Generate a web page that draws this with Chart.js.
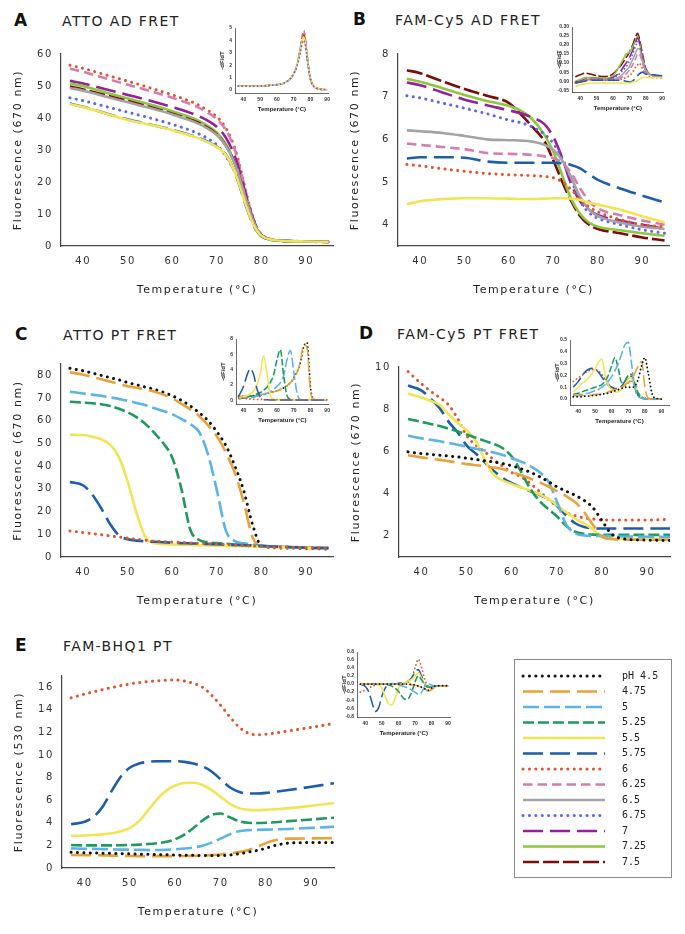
<!DOCTYPE html>
<html>
<head>
<meta charset="utf-8">
<script src="https://cdn.jsdelivr.net/npm/chart.js@4.4.1/dist/chart.umd.min.js"></script>
<style>
  body { margin: 0; background: #fff; width: 685px; height: 934px; position: relative; overflow: hidden; font-family: "DejaVu Sans", Verdana, sans-serif; }
  canvas { position: absolute; }
  .let { position: absolute; font-weight: bold; font-size: 17px; line-height: 17px; color: #111; }
  .ttl { position: absolute; font-size: 14px; line-height: 14px; letter-spacing: 1.4px; color: #222; white-space: nowrap; }
  #legendBox { position: absolute; left: 514px; top: 659px; width: 158px; height: 219px; box-sizing: border-box; border: 1px solid #8a8a8a; }
</style>
</head>
<body>
<div class="let" style="left:14px;top:12px">A</div>
<div class="ttl" style="left:62px;top:14px">ATTO AD FRET</div>
<div class="let" style="left:353px;top:11px">B</div>
<div class="ttl" style="left:395px;top:13px">FAM-Cy5 AD FRET</div>
<div class="let" style="left:15px;top:326px">C</div>
<div class="ttl" style="left:63px;top:328px">ATTO PT FRET</div>
<div class="let" style="left:359px;top:325px">D</div>
<div class="ttl" style="left:397px;top:327px">FAM-Cy5 PT FRET</div>
<div class="let" style="left:15px;top:637px">E</div>
<div class="ttl" style="left:63px;top:639px">FAM-BHQ1 PT</div>
<div id="legendBox"></div>

<canvas id="cA"></canvas><canvas id="cB"></canvas><canvas id="cC"></canvas>
<canvas id="cD"></canvas><canvas id="cE"></canvas>
<canvas id="iA"></canvas><canvas id="iB"></canvas><canvas id="iC"></canvas>
<canvas id="iD"></canvas><canvas id="iE"></canvas>
<canvas id="legend"></canvas>

<script>
// ---- labels / ticks ----
const phLabels = ['pH 4.5', '4.75', '5', '5.25', '5.5', '5.75', '6', '6.25', '6.5', '6.75', '7', '7.25', '7.5'];
const tempTicks = [40, 50, 60, 70, 80, 90];
const yTicksA = [0, 10, 20, 30, 40, 50, 60];
const yTicksB = [4, 5, 6, 7, 8];
const yTicksC = [0, 10, 20, 30, 40, 50, 60, 70, 80];
const yTicksD = [2, 4, 6, 8, 10];
const yTicksE = [0, 2, 4, 6, 8, 10, 12, 14, 16];
const iTicksA = [0, 1, 2, 3, 4, 5];
const iTicksB = [-0.05, 0, 0.05, 0.10, 0.15, 0.20, 0.25, 0.30];
const iTicksC = [0, 2, 4, 6, 8];
const iTicksD = [0, 0.1, 0.2, 0.3, 0.4, 0.5];
const iTicksE = [-0.8, -0.6, -0.4, -0.2, 0, 0.2, 0.4, 0.6, 0.8];

// ---- A: ATTO AD FRET ----
const tempA = [37, 40, 45, 50, 55, 60, 65, 68, 70, 72, 74, 75, 76, 77, 78, 79, 80, 82, 85, 90, 95];
const a55  = [44.4, 43.4, 41.4, 39.4, 37.9, 36.2, 34.1, 32.4, 30.9, 28.4, 23.0, 19.2, 14.8, 10.7, 7.2, 4.7, 3.1, 2.0, 1.6, 1.4, 1.3];
const a575 = [44.5, 43.5, 41.5, 39.5, 38.0, 36.3, 34.2, 32.5, 31.0, 28.5, 23.0, 19.0, 14.5, 10.5, 7.0, 4.5, 3.0, 2.0, 1.6, 1.4, 1.3];
const a6   = [56.5, 55.5, 53.5, 51.5, 49.4, 47.2, 44.6, 42.3, 40.3, 36.8, 30.5, 25.5, 19.8, 14.0, 9.2, 5.6, 3.5, 2.1, 1.6, 1.4, 1.3];
const a625 = [55.4, 54.4, 52.4, 50.4, 48.4, 46.3, 43.8, 41.6, 39.6, 36.2, 30.0, 25.0, 19.5, 13.8, 9.0, 5.5, 3.4, 2.1, 1.6, 1.4, 1.3];
const a65  = [49.4, 48.5, 46.7, 44.9, 43.1, 41.1, 38.7, 36.6, 34.6, 31.2, 25.6, 21.5, 16.8, 12.2, 8.2, 5.1, 3.3, 2.0, 1.6, 1.4, 1.3];
const a675 = [46.3, 45.4, 43.6, 41.8, 40.0, 38.0, 35.6, 33.5, 31.5, 28.0, 23.0, 19.2, 15.0, 10.9, 7.4, 4.8, 3.1, 2.0, 1.6, 1.4, 1.3];
const a7   = [51.6, 50.8, 49.0, 47.2, 45.4, 43.4, 41.1, 39.1, 37.2, 33.8, 28.0, 23.6, 18.5, 13.3, 8.8, 5.4, 3.4, 2.1, 1.6, 1.4, 1.3];
const a725 = [50.8, 49.9, 48.0, 46.1, 44.2, 42.1, 39.7, 37.5, 35.4, 31.8, 26.0, 21.8, 17.0, 12.3, 8.2, 5.1, 3.3, 2.0, 1.6, 1.4, 1.3];
const a75  = [49.8, 48.9, 47.1, 45.3, 43.4, 41.3, 39.0, 36.9, 34.8, 31.3, 25.8, 21.7, 17.0, 12.3, 8.2, 5.1, 3.3, 2.0, 1.6, 1.4, 1.3];

const tempAi = [37, 40, 45, 50, 55, 60, 65, 68, 70, 72, 74, 75, 76, 77, 78, 80, 82, 85, 88, 90];
const ai55  = [0.3, 0.3, 0.3, 0.32, 0.36, 0.42, 0.6, 0.9, 1.3, 2.0, 3.2, 3.9, 4.3, 3.8, 2.7, 0.9, 0.3, 0.08, 0.03, 0.02];
const ai675 = [0.3, 0.3, 0.3, 0.32, 0.36, 0.42, 0.6, 0.9, 1.3, 1.9, 3.0, 3.7, 4.0, 3.6, 2.6, 0.9, 0.3, 0.08, 0.03, 0.02];
const ai75  = [0.3, 0.3, 0.3, 0.32, 0.36, 0.42, 0.6, 0.9, 1.3, 2.0, 3.3, 4.1, 4.5, 3.9, 2.7, 0.9, 0.3, 0.08, 0.03, 0.02];
const ai6   = [0.3, 0.3, 0.3, 0.32, 0.36, 0.42, 0.6, 0.9, 1.3, 2.0, 3.3, 4.2, 4.6, 4.0, 2.8, 0.9, 0.3, 0.08, 0.03, 0.02];
const ai625 = [0.3, 0.3, 0.3, 0.32, 0.36, 0.42, 0.6, 0.9, 1.3, 2.0, 3.4, 4.3, 4.8, 4.2, 2.9, 0.9, 0.3, 0.08, 0.03, 0.02];

// ---- B: FAM-Cy5 AD FRET ----
const tempB = [37, 40, 45, 50, 55, 60, 63, 65, 68, 70, 72, 74, 76, 78, 80, 85, 90, 95];
const b55  = [4.48, 4.55, 4.6, 4.62, 4.62, 4.61, 4.6, 4.6, 4.61, 4.62, 4.62, 4.61, 4.58, 4.52, 4.47, 4.35, 4.2, 4.05];
const b575 = [5.55, 5.58, 5.58, 5.57, 5.48, 5.45, 5.45, 5.45, 5.45, 5.45, 5.44, 5.4, 5.32, 5.18, 5.05, 4.85, 4.68, 4.52];
const b6   = [5.41, 5.38, 5.31, 5.25, 5.2, 5.17, 5.16, 5.15, 5.13, 5.1, 5.0, 4.82, 4.6, 4.42, 4.3, 4.12, 4.0, 3.95];
const b625 = [5.9, 5.87, 5.82, 5.77, 5.68, 5.66, 5.65, 5.64, 5.6, 5.56, 5.45, 5.2, 4.85, 4.55, 4.38, 4.22, 4.1, 4.0];
const b65  = [6.21, 6.19, 6.15, 6.08, 6.0, 5.98, 5.97, 5.95, 5.87, 5.75, 5.5, 5.1, 4.65, 4.35, 4.2, 4.05, 3.95, 3.9];
const b675 = [7.02, 6.97, 6.85, 6.73, 6.6, 6.45, 6.38, 6.3, 6.12, 5.9, 5.55, 5.05, 4.55, 4.28, 4.15, 4.0, 3.88, 3.8];
const b7   = [7.33, 7.27, 7.1, 6.93, 6.8, 6.68, 6.6, 6.52, 6.35, 6.05, 5.55, 4.95, 4.55, 4.35, 4.22, 4.1, 4.0, 3.9];
const b725 = [7.42, 7.35, 7.2, 7.04, 6.9, 6.78, 6.65, 6.5, 6.1, 5.7, 5.15, 4.6, 4.25, 4.05, 3.95, 3.87, 3.8, 3.74];
const b75  = [7.62, 7.55, 7.36, 7.18, 7.02, 6.85, 6.55, 6.32, 5.95, 5.5, 5.0, 4.55, 4.2, 4.0, 3.9, 3.8, 3.7, 3.63];

const tempBi = [37, 40, 43, 46, 50, 55, 60, 65, 68, 70, 72, 74, 75, 76, 78, 80, 85, 90];
const bi55  = [-0.03, -0.02, -0.015, -0.01, -0.01, -0.01, -0.01, -0.01, -0.01, -0.01, -0.005, 0.0, 0.005, 0.01, 0.02, 0.02, 0.02, 0.02];
const bi575 = [-0.01, -0.005, 0.0, 0.005, 0.005, 0.005, 0.005, 0.005, 0.0, -0.005, 0.0, 0.02, 0.03, 0.04, 0.05, 0.04, 0.035, 0.03];
const bi6   = [-0.005, 0.0, 0.005, 0.008, 0.008, 0.005, 0.005, 0.01, 0.02, 0.03, 0.05, 0.08, 0.09, 0.1, 0.07, 0.04, 0.02, 0.02];
const bi625 = [-0.01, -0.005, 0.005, 0.01, 0.01, 0.005, 0.005, 0.02, 0.04, 0.06, 0.09, 0.13, 0.15, 0.15, 0.1, 0.05, 0.03, 0.02];
const bi65  = [-0.01, -0.005, 0.005, 0.01, 0.01, 0.008, 0.01, 0.03, 0.06, 0.08, 0.12, 0.16, 0.18, 0.18, 0.11, 0.06, 0.03, 0.02];
const bi675 = [-0.01, 0.0, 0.01, 0.012, 0.012, 0.01, 0.015, 0.05, 0.08, 0.11, 0.15, 0.2, 0.22, 0.21, 0.12, 0.06, 0.03, 0.02];
const bi7   = [-0.005, 0.0, 0.01, 0.015, 0.015, 0.01, 0.02, 0.06, 0.1, 0.13, 0.17, 0.22, 0.24, 0.22, 0.12, 0.06, 0.03, 0.02];
const bi725 = [0.0, 0.01, 0.02, 0.02, 0.02, 0.015, 0.03, 0.1, 0.15, 0.16, 0.19, 0.23, 0.25, 0.22, 0.13, 0.06, 0.03, 0.02];
const bi75  = [0.025, 0.035, 0.045, 0.04, 0.03, 0.025, 0.04, 0.09, 0.13, 0.16, 0.2, 0.25, 0.265, 0.24, 0.15, 0.07, 0.03, 0.02];

// ---- C: ATTO PT FRET ----
const tempC = [37, 40, 42, 44, 46, 48, 50, 52, 54, 56, 58, 60, 62, 64, 66, 68, 70, 72, 74, 76, 78, 80, 85, 90, 95];
const c45  = [83.1, 82.0, 81.0, 80.0, 79.0, 78.0, 76.8, 75.8, 74.8, 73.8, 72.5, 71.0, 69.0, 66.5, 63.5, 60.0, 55.0, 49.0, 40.0, 29.0, 14.0, 4.8, 4.0, 3.8, 3.5];
const c475 = [81.3, 80.3, 79.3, 78.3, 77.3, 76.2, 75.2, 74.5, 73.7, 72.8, 71.5, 69.8, 67.5, 65.0, 62.0, 58.0, 53.0, 46.0, 37.0, 24.0, 8.5, 4.8, 4.4, 4.0, 3.8];
const c5   = [72.8, 72.0, 71.5, 71.0, 70.3, 69.6, 68.8, 67.8, 66.8, 65.5, 64.3, 62.8, 60.8, 58.5, 55.0, 45.0, 29.0, 11.5, 7.0, 6.0, 5.5, 5.0, 4.5, 4.2, 4.0];
const c525 = [68.4, 68.0, 67.7, 67.3, 66.5, 65.3, 63.7, 61.5, 58.5, 54.5, 50.0, 43.5, 30.0, 12.0, 7.5, 6.5, 6.1, 5.8, 5.5, 5.3, 5.0, 4.8, 4.4, 4.1, 3.9];
const c55  = [53.9, 53.7, 53.0, 51.8, 49.5, 44.0, 33.0, 19.0, 8.5, 6.0, 5.6, 5.5, 5.4, 5.3, 5.2, 5.1, 5.0, 4.9, 4.8, 4.7, 4.6, 4.5, 4.3, 4.1, 3.9];
const c575 = [33.0, 31.5, 27.5, 21.5, 14.5, 9.5, 7.8, 7.2, 6.9, 6.7, 6.5, 6.3, 6.1, 6.0, 5.9, 5.7, 5.6, 5.4, 5.3, 5.2, 5.0, 4.8, 4.4, 4.1, 3.9];
const c6   = [11.5, 10.8, 10.3, 9.8, 9.3, 8.8, 8.3, 7.8, 7.4, 7.0, 6.8, 6.6, 6.4, 6.2, 6.0, 5.9, 5.7, 5.5, 5.3, 5.1, 4.9, 4.7, 4.4, 4.1, 3.9];

const tempCi = [37, 40, 42, 44, 46, 48, 50, 52, 54, 56, 58, 60, 62, 64, 66, 68, 70, 72, 74, 76, 78, 80, 82, 85, 90];
const ci45  = [0.5, 0.5, 0.5, 0.55, 0.6, 0.65, 0.7, 0.8, 0.9, 1.0, 1.1, 1.2, 1.4, 1.6, 1.9, 2.3, 2.9, 3.7, 4.9, 7.0, 7.5, 1.8, 0.1, 0.05, 0.05];
const ci475 = [0.5, 0.5, 0.5, 0.55, 0.6, 0.65, 0.7, 0.8, 0.9, 1.0, 1.1, 1.2, 1.4, 1.6, 1.9, 2.3, 2.8, 3.6, 5.0, 7.3, 6.8, 1.2, 0.1, 0.05, 0.05];
const ci5   = [0.2, 0.25, 0.3, 0.35, 0.4, 0.5, 0.6, 0.7, 0.9, 1.1, 1.4, 1.8, 2.3, 3.2, 5.3, 6.5, 3.8, 0.9, 0.1, 0.05, 0.05, 0.05, 0.05, 0.05, 0.05];
const ci525 = [0.2, 0.3, 0.4, 0.5, 0.6, 0.8, 1.0, 1.3, 1.7, 2.3, 3.3, 5.3, 6.6, 3.2, 0.6, 0.1, 0.05, 0.05, 0.05, 0.05, 0.05, 0.05, 0.05, 0.05, 0.05];
const ci55  = [0.3, 0.4, 0.6, 0.8, 1.2, 2.0, 3.5, 5.8, 3.5, 0.6, 0.1, 0.05, 0.05, 0.05, 0.05, 0.05, 0.05, 0.05, 0.05, 0.05, 0.05, 0.05, 0.05, 0.05, 0.05];
const ci575 = [0.5, 1.8, 3.2, 4.1, 3.4, 1.5, 0.4, 0.1, 0.05, 0.03, 0.02, 0.02, 0.02, 0.02, 0.02, 0.02, 0.02, 0.02, 0.02, 0.02, 0.02, 0.02, 0.02, 0.02, 0.02];
const ci6   = [0.3, 0.25, 0.2, 0.15, 0.12, 0.1, 0.1, 0.08, 0.07, 0.06, 0.05, 0.05, 0.05, 0.05, 0.05, 0.05, 0.05, 0.05, 0.05, 0.05, 0.05, 0.05, 0.05, 0.05, 0.05];

// ---- D: FAM-Cy5 PT FRET ----
const tempD = [37, 40, 42, 44, 46, 48, 50, 52, 54, 56, 58, 60, 62, 64, 66, 68, 70, 72, 74, 76, 78, 80, 82, 85, 90, 95];
const d45  = [5.98, 5.9, 5.86, 5.82, 5.78, 5.74, 5.68, 5.62, 5.56, 5.5, 5.42, 5.32, 5.18, 5.02, 4.82, 4.58, 4.32, 4.12, 3.92, 3.68, 3.32, 2.7, 2.1, 1.85, 1.8, 1.78];
const d475 = [5.82, 5.72, 5.66, 5.6, 5.54, 5.47, 5.4, 5.35, 5.3, 5.24, 5.16, 5.02, 4.88, 4.72, 4.55, 4.35, 4.12, 3.88, 3.6, 3.12, 2.5, 1.95, 1.85, 1.82, 1.82, 1.82];
const d5   = [6.74, 6.62, 6.55, 6.48, 6.4, 6.32, 6.22, 6.13, 6.04, 5.95, 5.83, 5.68, 5.52, 5.32, 5.04, 4.6, 3.6, 2.55, 2.12, 2.02, 2.0, 2.0, 1.98, 1.97, 1.96, 1.95];
const d525 = [7.54, 7.4, 7.3, 7.2, 7.08, 6.95, 6.8, 6.65, 6.5, 6.36, 6.15, 5.75, 5.05, 4.25, 3.68, 3.28, 2.92, 2.48, 2.2, 2.1, 2.06, 2.05, 2.05, 2.05, 2.05, 2.05];
const d55  = [8.74, 8.55, 8.4, 8.2, 7.75, 7.35, 7.0, 6.5, 5.6, 4.9, 4.62, 4.45, 4.3, 4.15, 3.98, 3.75, 3.45, 3.12, 2.82, 2.58, 2.3, 1.95, 1.86, 1.85, 1.85, 1.85];
const d575 = [9.12, 8.88, 8.5, 8.05, 7.4, 6.9, 6.28, 5.9, 5.48, 5.08, 4.74, 4.5, 4.3, 4.12, 3.96, 3.75, 3.43, 2.97, 2.6, 2.42, 2.36, 2.35, 2.35, 2.35, 2.35, 2.35];
const d6   = [9.78, 9.2, 8.85, 8.55, 8.2, 7.55, 6.74, 6.3, 5.98, 5.6, 5.3, 5.0, 4.8, 4.5, 4.12, 3.75, 3.4, 3.1, 2.95, 2.85, 2.8, 2.75, 2.75, 2.75, 2.75, 2.78];

const tempDi = [37, 40, 42, 44, 46, 48, 50, 52, 54, 56, 58, 60, 62, 64, 66, 68, 70, 72, 74, 76, 78, 80, 82, 85, 90];
const di45  = [0.02, 0.02, 0.02, 0.025, 0.025, 0.03, 0.03, 0.035, 0.04, 0.045, 0.05, 0.06, 0.07, 0.08, 0.09, 0.1, 0.1, 0.1, 0.11, 0.17, 0.28, 0.35, 0.22, 0.02, 0.0];
const di475 = [0.03, 0.03, 0.03, 0.03, 0.03, 0.035, 0.04, 0.04, 0.045, 0.05, 0.06, 0.07, 0.08, 0.09, 0.1, 0.12, 0.14, 0.17, 0.22, 0.28, 0.32, 0.1, 0.01, 0.0, 0.0];
const di5   = [0.03, 0.035, 0.04, 0.045, 0.05, 0.06, 0.07, 0.08, 0.1, 0.12, 0.15, 0.19, 0.24, 0.3, 0.38, 0.46, 0.48, 0.3, 0.09, 0.02, 0.01, 0.0, 0.0, 0.0, 0.0];
const di525 = [0.04, 0.05, 0.06, 0.07, 0.08, 0.09, 0.1, 0.11, 0.12, 0.15, 0.2, 0.28, 0.35, 0.26, 0.14, 0.15, 0.2, 0.21, 0.13, 0.05, 0.02, 0.0, 0.0, 0.0, 0.0];
const di55  = [0.06, 0.1, 0.13, 0.15, 0.18, 0.21, 0.25, 0.31, 0.34, 0.22, 0.12, 0.08, 0.06, 0.06, 0.08, 0.12, 0.17, 0.18, 0.11, 0.05, 0.02, 0.0, 0.0, 0.0, 0.0];
const di575 = [0.1, 0.15, 0.19, 0.23, 0.25, 0.26, 0.25, 0.23, 0.19, 0.15, 0.12, 0.1, 0.09, 0.09, 0.11, 0.15, 0.2, 0.19, 0.1, 0.03, 0.01, 0.0, 0.0, 0.0, 0.0];
const di6   = [0.15, 0.18, 0.2, 0.22, 0.24, 0.25, 0.25, 0.24, 0.21, 0.17, 0.13, 0.1, 0.08, 0.08, 0.09, 0.11, 0.14, 0.15, 0.11, 0.05, 0.02, 0.01, 0.0, 0.0, 0.0];

// ---- E: FAM-BHQ1 PT ----
const tempE = [37, 40, 42, 44, 46, 48, 50, 52, 54, 56, 58, 60, 62, 64, 66, 68, 70, 72, 74, 76, 78, 80, 82, 85, 90, 95];
const e45  = [1.4, 1.35, 1.33, 1.31, 1.29, 1.27, 1.25, 1.23, 1.21, 1.19, 1.17, 1.15, 1.13, 1.12, 1.11, 1.1, 1.1, 1.15, 1.25, 1.4, 1.55, 1.75, 2.0, 2.2, 2.25, 2.25];
const e475 = [1.15, 1.14, 1.13, 1.12, 1.1, 1.08, 1.06, 1.05, 1.05, 1.05, 1.05, 1.05, 1.06, 1.08, 1.1, 1.14, 1.2, 1.3, 1.42, 1.58, 1.85, 2.2, 2.45, 2.6, 2.62, 2.65];
const e5   = [1.74, 1.7, 1.69, 1.67, 1.65, 1.63, 1.62, 1.61, 1.6, 1.6, 1.62, 1.66, 1.72, 1.82, 1.98, 2.25, 2.6, 2.98, 3.25, 3.35, 3.38, 3.4, 3.42, 3.45, 3.55, 3.65];
const e525 = [2.03, 2.0, 2.0, 2.0, 2.0, 2.02, 2.04, 2.07, 2.12, 2.2, 2.32, 2.55, 2.95, 3.55, 4.2, 4.7, 4.82, 4.5, 4.15, 4.0, 3.98, 4.0, 4.05, 4.15, 4.3, 4.45];
const e55  = [2.85, 2.88, 2.92, 2.98, 3.08, 3.25, 3.55, 4.15, 5.1, 6.1, 6.85, 7.3, 7.52, 7.55, 7.35, 6.9, 6.3, 5.7, 5.3, 5.15, 5.12, 5.15, 5.2, 5.3, 5.5, 5.75];
const e575 = [3.87, 4.1, 4.55, 5.45, 6.85, 8.1, 8.9, 9.25, 9.4, 9.45, 9.45, 9.45, 9.4, 9.25, 9.0, 8.55, 7.85, 7.15, 6.75, 6.6, 6.6, 6.65, 6.75, 6.9, 7.2, 7.5];
const e6   = [15.06, 15.4, 15.6, 15.8, 15.98, 16.15, 16.3, 16.42, 16.5, 16.58, 16.62, 16.65, 16.55, 16.35, 16.0, 15.3, 14.4, 13.4, 12.5, 11.95, 11.8, 11.85, 11.95, 12.15, 12.45, 12.8];

const tempEi = [37, 40, 42, 44, 46, 48, 50, 52, 54, 56, 58, 60, 62, 64, 66, 68, 70, 72, 74, 76, 78, 80, 82, 85, 90];
const ei45  = [0, 0, 0, 0, 0, 0, 0, 0, 0, 0, 0, 0, 0, 0, 0, -0.01, -0.02, -0.05, -0.08, -0.12, -0.15, -0.1, -0.05, -0.04, -0.04];
const ei475 = [0, 0, 0, 0, 0, 0, 0, 0, 0, 0, 0, 0, 0, 0, -0.01, -0.02, -0.03, -0.05, -0.08, -0.12, -0.18, -0.14, -0.08, -0.05, -0.05];
const ei5   = [0, 0, 0, 0, 0, 0, 0, 0, 0, 0, -0.01, -0.02, -0.04, -0.07, -0.1, -0.15, -0.2, -0.25, -0.2, -0.05, 0, -0.02, -0.05, -0.05, -0.05];
const ei525 = [0, 0, 0, 0, 0, 0, 0, 0, -0.02, -0.05, -0.1, -0.18, -0.3, -0.38, -0.36, -0.2, 0.05, 0.2, 0.1, -0.02, -0.08, -0.08, -0.05, -0.05, -0.05];
const ei55  = [0, 0, 0, 0, 0, -0.02, -0.1, -0.3, -0.48, -0.52, -0.35, -0.12, 0, 0.05, 0.08, 0.12, 0.2, 0.28, 0.15, 0.0, -0.08, -0.1, -0.06, -0.05, -0.05];
const ei575 = [0, -0.06, -0.18, -0.45, -0.68, -0.6, -0.3, -0.1, -0.03, 0, 0, 0.02, 0.03, 0.05, 0.08, 0.15, 0.3, 0.36, 0.2, 0.0, -0.08, -0.08, -0.05, -0.05, -0.05];
const ei6   = [-0.2, -0.15, -0.1, -0.06, -0.03, -0.01, 0, 0, 0, 0, 0, 0, 0, 0.02, 0.05, 0.15, 0.4, 0.62, 0.42, 0.1, -0.05, -0.08, -0.06, -0.05, -0.05];

// ---- line styles per pH (index into phLabels) ----
const STYLE = [
  { c: '#111111', dash: [0.1, 6.3], w: 3, cap: 'round' },
  { c: '#E8A23A', dash: [20, 7], w: 2.6 },
  { c: '#5BB4E5', dash: [16, 5], w: 2.6 },
  { c: '#1E9B5C', dash: [11, 4], w: 2.6 },
  { c: '#F2E455', dash: [], w: 2.6 },
  { c: '#1E5DA8', dash: [20, 7], w: 2.6 },
  { c: '#E0552B', dash: [0.1, 6.3], w: 3, cap: 'round' },
  { c: '#D57CB0', dash: [9.5, 5], w: 2.6 },
  { c: '#A3A3A3', dash: [], w: 2.6 },
  { c: '#5C66EE', dash: [0.1, 6.3], w: 3, cap: 'round' },
  { c: '#94209A', dash: [20, 7], w: 2.6 },
  { c: '#8DC63F', dash: [], w: 2.6 },
  { c: '#7B0C0C', dash: [16, 4], w: 2.6 }
];

function ds(i, xs, ys, k) {
  const s = STYLE[i];
  return {
    label: phLabels[i],
    data: xs.map((x, j) => ({ x: x, y: ys[j] })),
    borderColor: s.c,
    borderWidth: s.w * k,
    borderDash: s.dash.map(d => d * k),
    borderCapStyle: s.cap || 'butt',
    pointRadius: 0,
    fill: false,
    cubicInterpolationMode: 'monotone'
  };
}

const MAIN = {
  yW: 61, xH: 55, padT: 10, padR: 8,
  tick: { family: 'DejaVu Sans', size: 10 }, title: { family: 'DejaVu Sans', size: 11 },
  tickPadX: 9, tickPadY: 8, titlePadY: { top: 12, bottom: 0 }, titlePadX: { top: 0, bottom: 4 },
  ls: '1.6px', border: 1.2
};
const INSET = {
  yW: 18, xH: 20, padT: 4, padR: 4,
  tick: { family: 'Liberation Sans', size: 5, weight: 'bold' }, title: { family: 'Liberation Sans', size: 6, weight: 'bold' },
  tickPadX: 4, tickPadY: 3, titlePadY: { top: 1.4, bottom: 0 }, titlePadX: { top: 0, bottom: 0.5 },
  ls: '0px', border: 0.8, yTitle: '-dF/dT'
};

function panel(id, area, xr, yr, yt, sets, o, yTitle, fmt) {
  const [L, T, R, B] = area;
  const cv = document.getElementById(id);
  cv.width = o.yW + (R - L) + o.padR;
  cv.height = o.padT + (B - T) + o.xH;
  cv.style.left = (L - o.yW) + 'px';
  cv.style.top = (T - o.padT) + 'px';
  return new Chart(cv, {
    type: 'line',
    data: { datasets: sets },
    options: {
      responsive: false, animation: false, events: [],
      layout: { padding: { top: o.padT, right: o.padR, left: 0, bottom: 0 } },
      plugins: { legend: { display: false }, tooltip: { enabled: false } },
      scales: {
        x: {
          type: 'linear', min: xr[0], max: xr[1],
          afterBuildTicks: s => { s.ticks = tempTicks.map(v => ({ value: v })); },
          afterFit: s => { s.height = o.xH; },
          grid: { display: false, drawTicks: false },
          border: { display: true, color: '#444', width: o.border },
          ticks: { font: o.tick, color: '#333', padding: o.tickPadX, maxRotation: 0, autoSkip: false },
          title: { display: true, text: 'Temperature (°C)', font: o.title, color: '#222', padding: o.titlePadX }
        },
        y: {
          type: 'linear', min: yr[0], max: yr[1],
          afterBuildTicks: s => { s.ticks = yt.map(v => ({ value: v })); },
          afterFit: s => { s.width = o.yW; },
          grid: { display: false, drawTicks: false },
          border: { display: true, color: '#444', width: o.border },
          ticks: { font: o.tick, color: '#333', padding: o.tickPadY, autoSkip: false, callback: fmt || (v => String(v)) },
          title: { display: true, text: yTitle, font: o.title, color: '#222', padding: o.titlePadY }
        }
      }
    },
    plugins: [{ id: 'spacing', beforeDraw: c => { c.ctx.letterSpacing = o.ls; } }]
  });
}

const F670 = 'Fluorescence (670 nm)';
const F530 = 'Fluorescence (530 nm)';

// main panels
panel('cA', [61, 50, 333, 246], [35, 96], [0, 60], yTicksA, [
  ds(4, tempA, a55, 1), ds(5, tempA, a575, 1), ds(9, tempA, a675, 1), ds(8, tempA, a65, 1),
  ds(12, tempA, a75, 1), ds(11, tempA, a725, 1), ds(10, tempA, a7, 1), ds(7, tempA, a625, 1), ds(6, tempA, a6, 1)
], MAIN, F670);

panel('cB', [398, 50, 669, 246], [35, 96], [3.5, 8], yTicksB, [
  ds(4, tempB, b55, 1), ds(5, tempB, b575, 1), ds(6, tempB, b6, 1), ds(7, tempB, b625, 1), ds(8, tempB, b65, 1),
  ds(9, tempB, b675, 1), ds(10, tempB, b7, 1), ds(11, tempB, b725, 1), ds(12, tempB, b75, 1)
], MAIN, F670);

panel('cC', [61, 360, 333, 557], [35, 96], [0, 85], yTicksC, [
  ds(6, tempC, c6, 1), ds(5, tempC, c575, 1), ds(4, tempC, c55, 1), ds(3, tempC, c525, 1),
  ds(2, tempC, c5, 1), ds(1, tempC, c475, 1), ds(0, tempC, c45, 1)
], MAIN, F670);

panel('cD', [399, 363, 670, 557], [35, 95], [1, 10], yTicksD, [
  ds(0, tempD, d45, 1), ds(1, tempD, d475, 1), ds(2, tempD, d5, 1), ds(3, tempD, d525, 1),
  ds(4, tempD, d55, 1), ds(5, tempD, d575, 1), ds(6, tempD, d6, 1)
], MAIN, F670);

panel('cE', [62, 672, 334, 868], [35, 95], [0, 17], yTicksE, [
  ds(0, tempE, e45, 1), ds(1, tempE, e475, 1), ds(2, tempE, e5, 1), ds(3, tempE, e525, 1),
  ds(4, tempE, e55, 1), ds(5, tempE, e575, 1), ds(6, tempE, e6, 1)
], MAIN, F530);

// insets
const K = 0.6;
panel('iA', [235, 26, 330, 93], [35, 91], [-0.25, 5], iTicksA, [
  ds(9, tempAi, ai675, K), ds(4, tempAi, ai55, K), ds(6, tempAi, ai6, K), ds(7, tempAi, ai625, K), ds(12, tempAi, ai75, K)
], INSET, INSET.yTitle);

panel('iB', [572, 25, 665, 92], [35, 91], [-0.06, 0.30], iTicksB, [
  ds(4, tempBi, bi55, K), ds(5, tempBi, bi575, K), ds(6, tempBi, bi6, K), ds(7, tempBi, bi625, K), ds(8, tempBi, bi65, K),
  ds(9, tempBi, bi675, K), ds(10, tempBi, bi7, K), ds(11, tempBi, bi725, K), ds(12, tempBi, bi75, K)
], INSET, INSET.yTitle, v => v.toFixed(2));

panel('iC', [236, 337, 330, 404], [35.5, 91], [-0.5, 8], iTicksC, [
  ds(6, tempCi, ci6, K), ds(5, tempCi, ci575, K), ds(4, tempCi, ci55, K), ds(3, tempCi, ci525, K),
  ds(2, tempCi, ci5, K), ds(1, tempCi, ci475, K), ds(0, tempCi, ci45, K)
], INSET, INSET.yTitle);

panel('iD', [570, 338, 669, 405], [35, 94.5], [-0.05, 0.5], iTicksD, [
  ds(0, tempDi, di45, K), ds(1, tempDi, di475, K), ds(2, tempDi, di5, K), ds(3, tempDi, di525, K),
  ds(4, tempDi, di55, K), ds(5, tempDi, di575, K), ds(6, tempDi, di6, K)
], INSET, INSET.yTitle, v => v.toFixed(1));

panel('iE', [357, 650, 451, 717], [35, 91.5], [-0.82, 0.8], iTicksE, [
  ds(0, tempEi, ei45, K), ds(1, tempEi, ei475, K), ds(2, tempEi, ei5, K), ds(3, tempEi, ei525, K),
  ds(4, tempEi, ei55, K), ds(5, tempEi, ei575, K), ds(6, tempEi, ei6, K)
], INSET, INSET.yTitle, v => v.toFixed(1));

// legend (Chart.js legend of an empty chart)
const lg = document.getElementById('legend');
lg.width = 156; lg.height = 217;
lg.style.left = '515px'; lg.style.top = '660px';
new Chart(lg, {
  type: 'line',
  data: { datasets: phLabels.map((p, i) => Object.assign(ds(i, [], [], 1), { label: '  ' + p })) },
  options: {
    responsive: false, animation: false, events: [],
    layout: { padding: { left: 2.5, top: 5.5, right: 0, bottom: 0 } },
    scales: { x: { display: false }, y: { display: false } },
    plugins: {
      tooltip: { enabled: false },
      legend: {
        position: 'top', align: 'start', maxHeight: 217,
        labels: {
          usePointStyle: true, pointStyle: 'line', pointStyleWidth: 82, boxHeight: 10, padding: 5.5,
          color: '#222', font: { family: 'DejaVu Sans Mono', size: 10 },
          generateLabels: c => c.data.datasets.map((d, i) => ({
            text: d.label, strokeStyle: d.borderColor, fillStyle: d.borderColor,
            lineWidth: d.borderWidth, lineDash: d.borderDash, lineCap: d.borderCapStyle,
            pointStyle: 'line', fontColor: '#222', hidden: false, datasetIndex: i
          }))
        }
      }
    }
  }
});
</script>
</body>
</html>
